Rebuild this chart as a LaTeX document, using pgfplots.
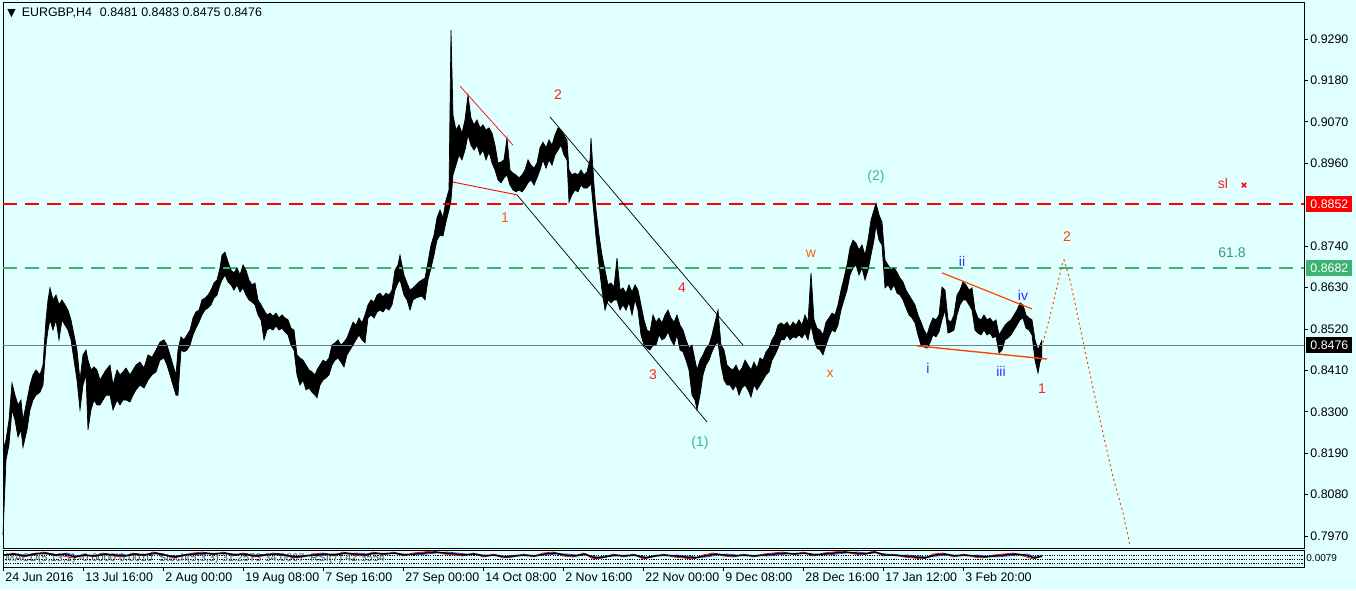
\documentclass[border=0pt]{standalone}
\usepackage{fontspec}
\setmainfont{Liberation Sans}
\newfontfamily\dejavu{DejaVu Sans}
\usepackage{pgfplots}
\usepackage{pgfplotstable}
\pgfplotsset{compat=1.18}
\usepgfplotslibrary{fillbetween}

\definecolor{bg}{HTML}{E0FFFF}
\definecolor{lvlred}{HTML}{FF0000}
\definecolor{lvlgreen}{HTML}{3CB371}
\definecolor{lvlgray}{HTML}{708090}
\definecolor{wred}{HTML}{FF2020}
\definecolor{worange}{HTML}{FF5A1E}
\definecolor{wteal}{HTML}{3CB39A}
\definecolor{wblue}{HTML}{3030FF}
\definecolor{fibo}{HTML}{3A9A78}
\definecolor{trend}{HTML}{FF4500}
\pagecolor{bg}

% H4 bars, x = bar position on screen, hi/lo = bar range
\pgfplotstableread{
x hi lo
3 0.8198 0.7973
6 0.8225 0.8172
9 0.8278 0.8212
12 0.8376 0.8305
15 0.8344 0.8278
18 0.8318 0.8233
21 0.8331 0.8252
23 0.8278 0.8206
27 0.8331 0.8252
30 0.8371 0.8305
33 0.8398 0.8331
36 0.8411 0.8344
40 0.8398 0.8352
43 0.8424 0.8371
46 0.8544 0.8477
48 0.8597 0.8517
50 0.8629 0.8544
53 0.8597 0.8517
56 0.8610 0.8544
59 0.8584 0.8491
62 0.8597 0.8544
65 0.8584 0.8530
68 0.8570 0.8517
71 0.8544 0.8491
74 0.8504 0.8437
77 0.8464 0.8384
80 0.8384 0.8305
83 0.8451 0.8371
86 0.8464 0.8398
88 0.8437 0.8252
91 0.8411 0.8305
94 0.8419 0.8331
97 0.8411 0.8318
100 0.8384 0.8318
103 0.8398 0.8331
106 0.8411 0.8344
110 0.8424 0.8344
113 0.8371 0.8305
117 0.8411 0.8331
120 0.8398 0.8318
123 0.8406 0.8331
126 0.8416 0.8331
130 0.8398 0.8326
133 0.8411 0.8344
136 0.8424 0.8358
140 0.8432 0.8371
144 0.8416 0.8363
148 0.8451 0.8384
152 0.8445 0.8398
156 0.8464 0.8406
160 0.8485 0.8437
164 0.8491 0.8443
167 0.8477 0.8424
170 0.8451 0.8398
173 0.8424 0.8371
176 0.8398 0.8344
178 0.8464 0.8344
181 0.8499 0.8464
184 0.8491 0.8459
187 0.8504 0.8464
190 0.8517 0.8477
193 0.8549 0.8504
196 0.8565 0.8522
199 0.8570 0.8538
202 0.8597 0.8557
205 0.8602 0.8570
208 0.8610 0.8576
211 0.8623 0.8584
214 0.8642 0.8602
217 0.8650 0.8610
220 0.8682 0.8637
222 0.8716 0.8650
225 0.8724 0.8663
228 0.8698 0.8645
231 0.8676 0.8637
234 0.8669 0.8623
237 0.8682 0.8637
240 0.8663 0.8618
243 0.8690 0.8629
246 0.8676 0.8610
249 0.8650 0.8597
252 0.8637 0.8591
255 0.8642 0.8584
258 0.8597 0.8557
261 0.8584 0.8544
264 0.8570 0.8491
267 0.8557 0.8517
270 0.8562 0.8522
273 0.8554 0.8517
276 0.8562 0.8528
279 0.8549 0.8517
282 0.8557 0.8522
285 0.8549 0.8512
288 0.8544 0.8504
291 0.8522 0.8477
294 0.8517 0.8464
297 0.8451 0.8398
300 0.8443 0.8371
303 0.8437 0.8384
306 0.8424 0.8358
309 0.8411 0.8363
312 0.8406 0.8352
315 0.8398 0.8344
317 0.8411 0.8337
320 0.8424 0.8371
323 0.8437 0.8384
326 0.8432 0.8390
329 0.8443 0.8398
332 0.8477 0.8424
335 0.8483 0.8437
338 0.8491 0.8443
341 0.8477 0.8432
344 0.8485 0.8419
347 0.8496 0.8451
350 0.8517 0.8464
353 0.8538 0.8477
356 0.8530 0.8491
359 0.8549 0.8504
362 0.8536 0.8491
365 0.8557 0.8483
368 0.8584 0.8549
371 0.8597 0.8557
374 0.8591 0.8549
377 0.8610 0.8565
380 0.8615 0.8570
383 0.8605 0.8565
386 0.8615 0.8576
389 0.8610 0.8570
392 0.8623 0.8584
395 0.8676 0.8623
398 0.8690 0.8642
400 0.8716 0.8650
404 0.8663 0.8610
407 0.8642 0.8597
410 0.8623 0.8570
413 0.8629 0.8597
416 0.8637 0.8602
419 0.8645 0.8605
422 0.8650 0.8607
425 0.8655 0.8597
428 0.8698 0.8650
431 0.8743 0.8682
434 0.8769 0.8716
437 0.8815 0.8756
440 0.8836 0.8769
443 0.8815 0.8767
446 0.8862 0.8804
449 0.8889 0.8836
451 0.9314 0.8862
453 0.9088 0.8929
456 0.9048 0.8955
459 0.9062 0.8982
462 0.9040 0.8969
465 0.9075 0.8995
468 0.9141 0.9035
471 0.9080 0.9008
474 0.9062 0.8995
477 0.9075 0.9008
480 0.9054 0.8982
483 0.9062 0.8995
486 0.9048 0.8969
489 0.9054 0.8990
492 0.9040 0.8961
495 0.9008 0.8942
498 0.8961 0.8916
501 0.8963 0.8908
504 0.8969 0.8921
507 0.9027 0.8929
510 0.8942 0.8902
513 0.8934 0.8889
516 0.8929 0.8884
519 0.8921 0.8889
522 0.8929 0.8884
525 0.8942 0.8894
528 0.8969 0.8908
531 0.8955 0.8916
534 0.8947 0.8902
537 0.8961 0.8921
540 0.9001 0.8942
543 0.9016 0.8969
546 0.9001 0.8947
549 0.9022 0.8969
552 0.9008 0.8955
555 0.9035 0.8982
558 0.9054 0.8995
561 0.9048 0.9008
564 0.9035 0.8982
567 0.9022 0.8969
569 0.8942 0.8857
572 0.8929 0.8876
575 0.8934 0.8889
578 0.8929 0.8884
581 0.8942 0.8902
584 0.8929 0.8894
587 0.8937 0.8894
590 0.8969 0.8902
591 0.9027 0.8908
594 0.8902 0.8823
596 0.8836 0.8764
599 0.8769 0.8690
602 0.8716 0.8623
605 0.8676 0.8570
608 0.8637 0.8597
611 0.8642 0.8589
614 0.8631 0.8597
617 0.8708 0.8597
620 0.8623 0.8570
623 0.8629 0.8584
626 0.8615 0.8570
629 0.8637 0.8591
632 0.8618 0.8557
635 0.8637 0.8597
638 0.8623 0.8570
641 0.8584 0.8504
644 0.8544 0.8477
647 0.8517 0.8469
650 0.8512 0.8464
653 0.8557 0.8477
656 0.8538 0.8477
659 0.8549 0.8504
662 0.8536 0.8491
665 0.8557 0.8496
668 0.8570 0.8512
671 0.8549 0.8491
674 0.8538 0.8477
677 0.8557 0.8504
680 0.8530 0.8464
683 0.8517 0.8459
686 0.8491 0.8437
689 0.8469 0.8411
692 0.8477 0.8344
695 0.8437 0.8331
697 0.8411 0.8305
700 0.8437 0.8344
703 0.8451 0.8398
706 0.8469 0.8424
709 0.8477 0.8437
712 0.8504 0.8459
715 0.8538 0.8477
718 0.8570 0.8485
721 0.8477 0.8424
724 0.8464 0.8384
727 0.8424 0.8371
730 0.8416 0.8371
733 0.8411 0.8358
736 0.8424 0.8371
739 0.8406 0.8344
742 0.8416 0.8363
745 0.8437 0.8371
748 0.8424 0.8358
751 0.8411 0.8339
754 0.8432 0.8371
757 0.8416 0.8358
760 0.8443 0.8371
763 0.8437 0.8384
766 0.8459 0.8398
769 0.8469 0.8406
772 0.8491 0.8437
775 0.8504 0.8451
778 0.8530 0.8469
781 0.8536 0.8491
784 0.8530 0.8491
787 0.8538 0.8504
790 0.8525 0.8491
793 0.8538 0.8499
796 0.8530 0.8496
799 0.8544 0.8504
802 0.8530 0.8496
805 0.8557 0.8509
808 0.8538 0.8491
811 0.8669 0.8530
814 0.8544 0.8491
817 0.8522 0.8469
820 0.8517 0.8464
823 0.8504 0.8451
826 0.8538 0.8477
829 0.8549 0.8499
832 0.8562 0.8517
835 0.8557 0.8512
838 0.8584 0.8530
841 0.8623 0.8570
844 0.8655 0.8597
847 0.8690 0.8623
850 0.8735 0.8663
853 0.8756 0.8682
856 0.8748 0.8690
859 0.8730 0.8663
862 0.8743 0.8682
865 0.8716 0.8650
868 0.8756 0.8676
871 0.8809 0.8716
874 0.8836 0.8756
876 0.8854 0.8796
879 0.8823 0.8756
882 0.8804 0.8743
885 0.8703 0.8629
888 0.8690 0.8637
891 0.8676 0.8623
894 0.8682 0.8637
897 0.8671 0.8615
900 0.8655 0.8610
903 0.8645 0.8597
906 0.8623 0.8576
909 0.8610 0.8557
912 0.8597 0.8549
915 0.8584 0.8536
918 0.8557 0.8504
921 0.8538 0.8477
924 0.8517 0.8472
927 0.8504 0.8469
930 0.8530 0.8483
933 0.8549 0.8504
936 0.8544 0.8499
939 0.8557 0.8512
942 0.8631 0.8544
945 0.8623 0.8570
948 0.8544 0.8509
951 0.8538 0.8512
954 0.8557 0.8517
957 0.8610 0.8557
960 0.8623 0.8584
963 0.8645 0.8597
966 0.8637 0.8597
969 0.8623 0.8584
972 0.8629 0.8570
975 0.8570 0.8517
978 0.8549 0.8509
981 0.8544 0.8504
984 0.8557 0.8517
987 0.8544 0.8504
990 0.8549 0.8509
993 0.8538 0.8496
996 0.8544 0.8501
999 0.8504 0.8456
1002 0.8517 0.8464
1005 0.8530 0.8491
1008 0.8538 0.8496
1011 0.8544 0.8504
1014 0.8557 0.8517
1017 0.8570 0.8530
1020 0.8589 0.8544
1023 0.8584 0.8549
1026 0.8557 0.8522
1029 0.8549 0.8517
1032 0.8544 0.8504
1035 0.8491 0.8437
1038 0.8464 0.8403
1040 0.8477 0.8432
1042 0.8491 0.8445
}\pricetab

\newcommand{\tf}{\fontsize{6.2}{7}\selectfont}
\newcommand{\wf}{\fontsize{7}{8}\selectfont}

\begin{document}%
\begin{tikzpicture}
\path (0,0) rectangle (678pt,295pt);

\begin{axis}[
  at={(1.5pt,21pt)}, anchor=south west,
  scale only axis, width=650.5pt, height=272.5pt,
  xmin=3, xmax=1304, ymin=0.793811, ymax=0.938563,
  clip=false,
  axis line style={black, line width=0.5pt},
  xtick=\empty,
  ytick={0.7970,0.8080,0.8190,0.8300,0.8410,0.8520,0.8630,0.8740,0.8960,0.9070,0.9180,0.9290},
  ytick pos=right, yticklabel pos=right,
  tick align=outside, major tick length=2pt,
  tick style={black, line width=0.4pt},
  yticklabel style={font=\tf, anchor=west, inner xsep=1pt,
    /pgf/number format/.cd, fixed, fixed zerofill, precision=4, assume math mode=true},
]
% levels
\addplot[draw=lvlred, line width=0.75pt, dash pattern=on 7pt off 4pt] coordinates {(3,0.8852)(1304,0.8852)};
\addplot[draw=lvlgreen, line width=0.75pt, dash pattern=on 7pt off 4pt] coordinates {(3,0.8682)(1304,0.8682)};
\addplot[draw=lvlgray, line width=0.5pt] coordinates {(3,0.8476)(1304,0.8476)};

% price bars
\addplot[name path=hi, black, line width=0.35pt] table[x=x, y=hi] {\pricetab};
\addplot[name path=lo, black, line width=0.35pt] table[x=x, y=lo] {\pricetab};
\addplot[fill=black, draw=none] fill between[of=hi and lo];

% red wedge
\addplot[red, line width=0.35pt] coordinates {(460,0.9165)(513,0.9008)};
\addplot[red, line width=0.45pt] coordinates {(453,0.8910)(517,0.8876)};
% black channel
\addplot[black, line width=0.35pt] coordinates {(550,0.9083)(743,0.8477)};
\addplot[black, line width=0.35pt] coordinates {(517,0.8876)(707,0.8273)};
% orange wedge
\addplot[trend, line width=0.6pt] coordinates {(942,0.8669)(1032,0.8573)};
\addplot[trend, line width=0.7pt] coordinates {(917,0.8475)(1047,0.8440)};
% projected path
\addplot[trend, line width=0.5pt, dash pattern=on 1pt off 1.5pt] coordinates {
 (1043,0.8483)(1050,0.8554)(1057,0.8631)(1062,0.8690)(1064,0.8703)
 (1070,0.8650)(1080,0.8525)(1087,0.8437)(1100,0.8278)(1113,0.8127)
 (1123,0.8031)(1130,0.7946)};
% stop loss mark
\addplot[only marks, mark=x, red, mark size=1.6pt, line width=0.7pt] coordinates {(1244,0.8902)};

% wave labels
\node[font=\wf, text=worange] at (axis cs:505,0.8815) {1};
\node[font=\wf, text=wred] at (axis cs:558,0.9141) {2};
\node[font=\wf, text=wred] at (axis cs:653,0.8398) {3};
\node[font=\wf, text=wred] at (axis cs:682,0.8629) {4};
\node[font=\wf, text=wteal] at (axis cs:700,0.8217) {(1)};
\node[font=\wf, text=wteal] at (axis cs:876,0.8923) {(2)};
\node[font=\wf, text=worange] at (axis cs:811,0.8719) {w};
\node[font=\wf, text=worange] at (axis cs:830,0.8400) {x};
\node[font=\wf, text=wblue] at (axis cs:928,0.8416) {i};
\node[font=\wf, text=wblue] at (axis cs:962,0.8698) {ii};
\node[font=\wf, text=wblue] at (axis cs:1001,0.8408) {iii};
\node[font=\wf, text=wblue] at (axis cs:1023,0.8610) {iv};
\node[font=\wf, text=wred] at (axis cs:1042,0.8360) {1};
\node[font=\wf, text=trend] at (axis cs:1067,0.8764) {2};
\node[font=\wf, text=wred] at (axis cs:1223,0.8905) {sl};
\node[font=\wf, text=fibo] at (axis cs:1232,0.8722) {61.8};

% price boxes
\node[font=\tf, fill=lvlred, text=white, anchor=west, inner sep=0.5pt, minimum height=8pt, minimum width=23pt] at (axis cs:1306,0.8852) {0.8852};
\node[font=\tf, fill=lvlgreen, text=white, anchor=west, inner sep=0.5pt, minimum height=8pt, minimum width=23pt] at (axis cs:1306,0.8682) {0.8682};
\node[font=\tf, fill=black, text=white, anchor=west, inner sep=0.5pt, minimum height=8pt, minimum width=23pt] at (axis cs:1306,0.8476) {0.8476};

% header
\node[font=\tf, anchor=west, inner sep=0pt] at (axis cs:7,0.9359) {{\dejavu\fontsize{5.5}{6}\selectfont ▼}\hspace{3pt}EURGBP,H4\hspace{4pt}0.8481 0.8483 0.8475 0.8476};
\end{axis}

% indicator window
\begin{axis}[
  at={(1.5pt,11.5pt)}, anchor=south west,
  scale only axis, width=650.5pt, height=8.5pt,
  xmin=3, xmax=1304, ymin=0, ymax=17,
  clip=false,
  axis line style={black, line width=0.5pt},
  ytick=\empty,
  xtick={3,83,163,243,323,403,483,563,643,723,803,883,963},
  xticklabels={24 Jun 2016,13 Jul 16:00,2 Aug 00:00,19 Aug 08:00,7 Sep 16:00,27 Sep 00:00,14 Oct 08:00,2 Nov 16:00,22 Nov 00:00,9 Dec 08:00,28 Dec 16:00,17 Jan 12:00,3 Feb 20:00},
  xtick pos=bottom, tick align=outside, major tick length=2pt,
  tick style={black, line width=0.4pt},
  xticklabel style={font=\tf, anchor=north west, inner sep=0.5pt, xshift=0.5pt},
]
\addplot[black, line width=0.3pt, dash pattern=on 0.6pt off 0.6pt] coordinates {(3,12)(1304,12)};
\addplot[black, line width=0.3pt, dash pattern=on 0.6pt off 0.6pt] coordinates {(3,8)(1304,8)};
\addplot[black, line width=0.3pt, dash pattern=on 0.6pt off 0.6pt] coordinates {(3,4)(1304,4)};
\node[font=\fontsize{5.5}{6}\selectfont, text=black!65, anchor=west, inner sep=0pt] at (axis cs:5,8) {MACD(5,13,1) -0.0000 0.0010 \ Stoch(5,3,3) 31.2573 34.0067 \ RSI(7) 42.3554};
\addplot[red, line width=0.35pt] coordinates {
(3,11)(13,14)(23,10)(33,12)(43,15)(53,13)(63,11)(73,9)(83,13)(93,10)(103,14)(113,11)(123,10)(133,14)(143,11)(153,15)(163,13)(173,9)(183,11)(193,14)(203,15)(213,12)(223,15)(233,11)(243,14)(253,10)(263,11)(273,14)(283,13)(293,9)(303,10)(313,13)(323,14)(333,11)(343,15)(353,12)(363,11)(373,15)(383,12)(393,15)(403,11)(413,14)(423,15)(433,16)(443,13)(453,12)(463,11)(473,14)(483,10)(493,13)(503,9)(513,10)(523,13)(533,10)(543,14)(553,15)(563,11)(573,10)(583,14)(593,8)(603,9)(613,13)(623,10)(633,13)(643,8)(653,10)(663,13)(673,10)(683,9)(693,8)(703,12)(713,14)(723,11)(733,10)(743,13)(753,10)(763,13)(773,14)(783,15)(793,12)(803,15)(813,11)(823,14)(833,15)(843,16)(853,13)(863,12)(873,16)(883,11)(893,13)(903,10)(913,9)(923,8)(933,13)(943,14)(953,10)(963,13)(973,10)(983,9)(993,12)(1003,13)(1013,14)(1023,11)(1033,8)(1042,12)};
\addplot[wblue, line width=0.35pt] coordinates {
(7,13)(17,12)(27,12)(37,14)(47,13)(57,11)(67,14)(77,11)(87,11)(97,12)(107,12)(117,13)(127,12)(137,12)(147,13)(157,13)(167,11)(177,11)(187,13)(197,12)(207,13)(217,14)(227,13)(237,13)(247,12)(257,12)(267,13)(277,12)(287,11)(297,11)(307,12)(317,11)(327,12)(337,13)(347,13)(357,14)(367,13)(377,13)(387,14)(397,13)(407,13)(417,12)(427,13)(437,14)(447,15)(457,14)(467,13)(477,12)(487,12)(497,11)(507,11)(517,12)(527,11)(537,12)(547,12)(557,13)(567,13)(577,12)(587,12)(597,10)(607,11)(617,11)(627,12)(637,11)(647,10)(657,12)(667,11)(677,12)(687,11)(697,10)(707,10)(717,12)(727,13)(737,12)(747,11)(757,12)(767,11)(777,12)(787,13)(797,14)(807,13)(817,13)(827,12)(837,13)(847,14)(857,15)(867,14)(877,14)(887,13)(897,11)(907,12)(917,11)(927,10)(937,11)(947,12)(957,12)(967,11)(977,12)(987,11)(997,10)(1007,11)(1017,12)(1027,13)(1037,10)(1042,10)};
\addplot[black, line width=0.75pt] coordinates {
(3,12)(15,13)(25,11)(35,13)(45,14)(55,12)(65,13)(75,10)(85,12)(95,11)(105,13)(115,12)(125,11)(135,13)(145,12)(155,14)(165,12)(175,10)(185,12)(195,13)(205,14)(215,13)(225,14)(235,12)(245,13)(255,11)(265,12)(275,13)(285,12)(295,10)(305,11)(315,12)(325,13)(335,12)(345,14)(355,13)(365,12)(375,14)(385,13)(395,14)(405,12)(415,13)(425,14)(435,15)(445,14)(455,13)(465,12)(475,13)(485,11)(495,12)(505,10)(515,11)(525,12)(535,11)(545,13)(555,14)(565,12)(575,11)(585,13)(595,9)(605,10)(615,12)(625,11)(635,12)(645,9)(655,11)(665,12)(675,11)(685,10)(695,9)(705,11)(715,13)(725,12)(735,11)(745,12)(755,11)(765,12)(775,13)(785,14)(795,13)(805,14)(815,12)(825,13)(835,14)(845,15)(855,14)(865,13)(875,15)(885,12)(895,12)(905,11)(915,10)(925,9)(935,12)(945,13)(955,11)(965,12)(975,11)(985,10)(995,11)(1005,12)(1015,13)(1025,12)(1035,9)(1042,11)};
\node[font=\fontsize{5}{5}\selectfont, anchor=west, inner sep=0pt] at (axis cs:1306,9) {0.0079};
\end{axis}
\end{tikzpicture}%
\end{document}
